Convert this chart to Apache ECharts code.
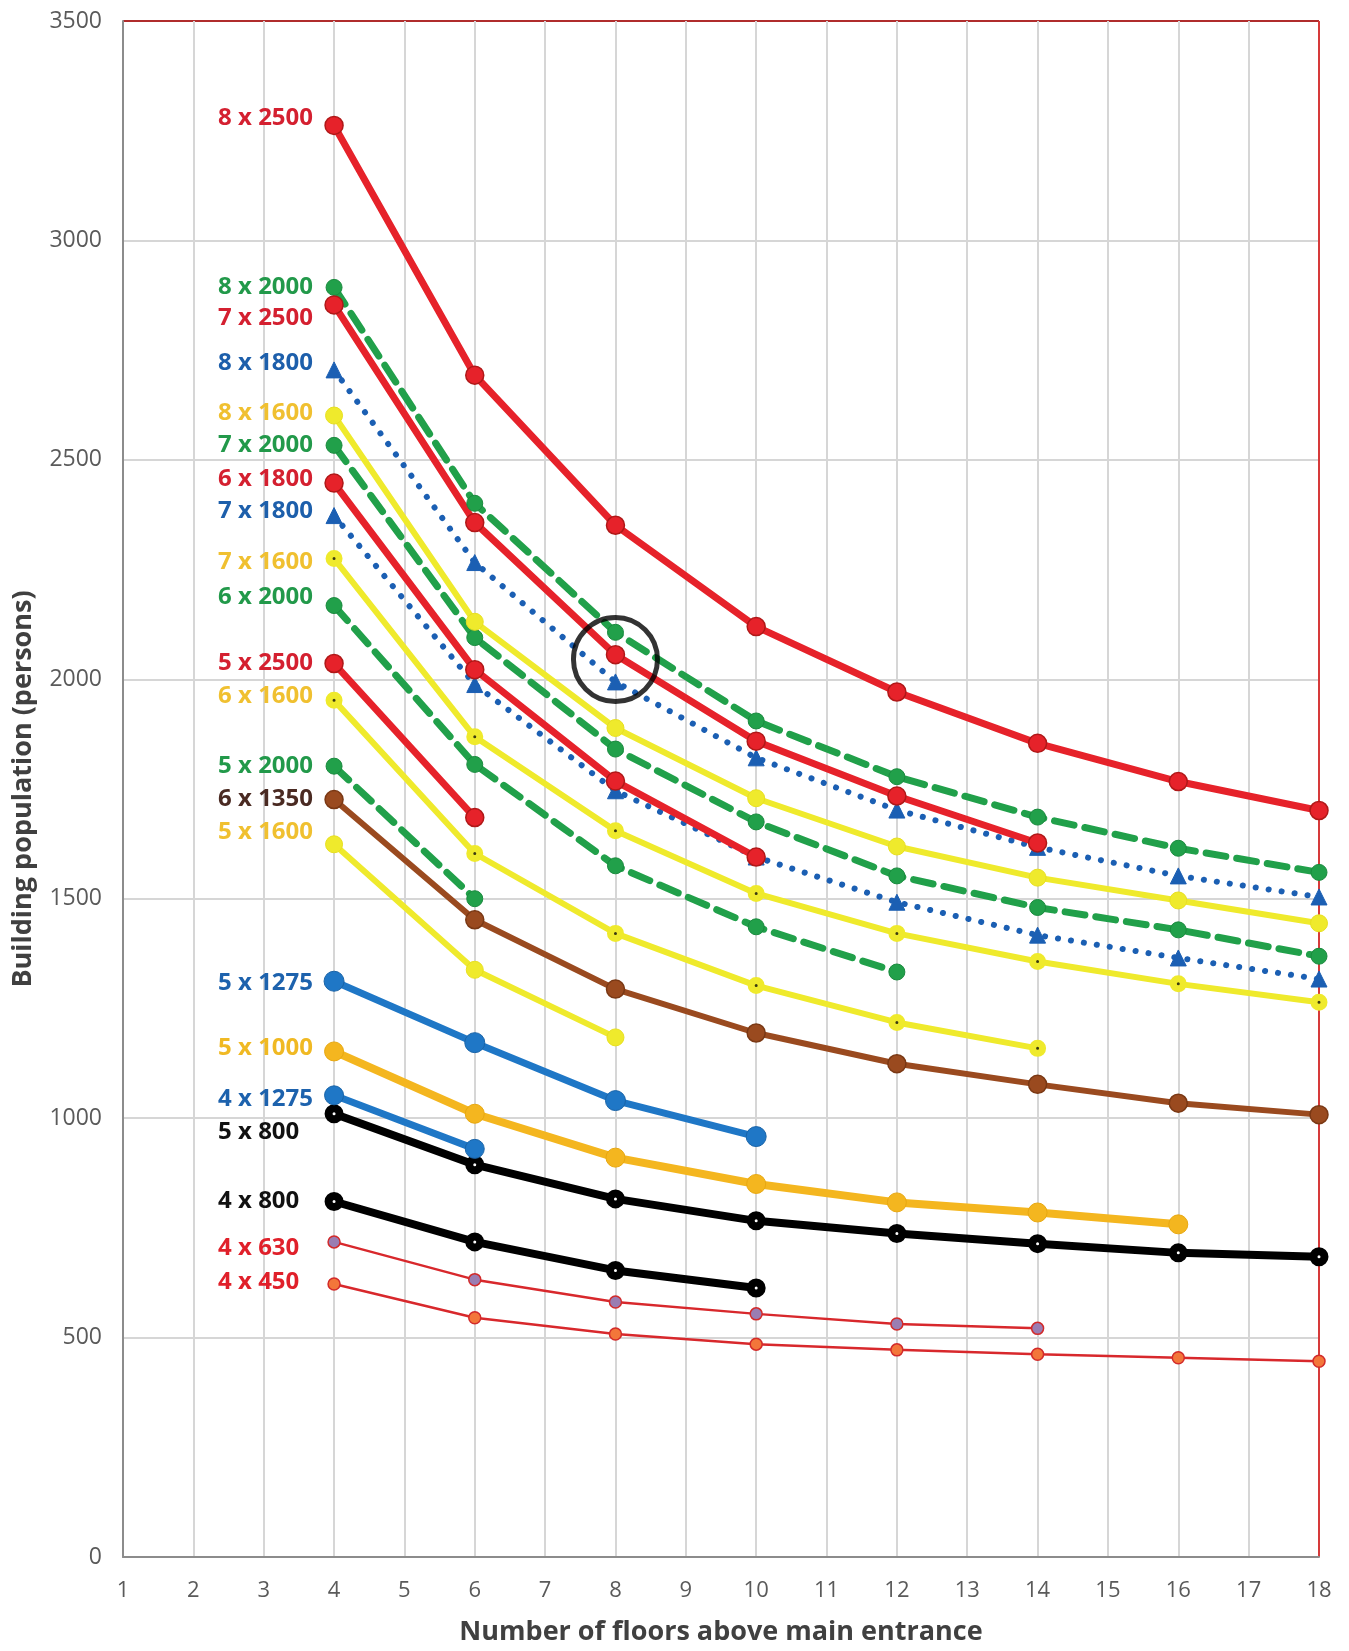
<!DOCTYPE html>
<html>
<head>
<meta charset="utf-8">
<script src="https://cdn.jsdelivr.net/npm/echarts@6/dist/echarts.min.js"></script>
<style>
  html, body { margin: 0; padding: 0; background: #fff; }
  #chart { width: 1349px; height: 1651px; }
</style>
</head>
<body>
<div id="chart"></div>
<script>
// floors on the x axis where the curves have points
const floors = [4, 6, 8, 10, 12, 14, 16, 18];
const yTicks = [0, 500, 1000, 1500, 2000, 2500, 3000, 3500];

// building population per curve
const s8x2500 = [3262, 2693, 2351, 2120, 1971, 1854, 1767, 1701];
const s8x2000 = [2893, 2401, 2107, 1905, 1778, 1686, 1615, 1560];
const s7x2500 = [2853, 2357, 2056, 1859, 1734, 1627];
const s8x1800 = [2705, 2266, 1994, 1821, 1702, 1617, 1552, 1504];
const s8x1600 = [2601, 2131, 1889, 1729, 1619, 1548, 1496, 1444];
const s7x2000 = [2533, 2095, 1841, 1675, 1552, 1480, 1429, 1369];
const s6x1800 = [2447, 2022, 1768, 1595];
const s7x1800 = [2373, 1988, 1746, 1595, 1492, 1417, 1365, 1317];
const s7x1600 = [2275, 1869, 1655, 1512, 1421, 1357, 1306, 1264];
const s6x2000 = [2168, 1806, 1575, 1436, 1333];
const s5x2500 = [2036, 1685];
const s6x1600 = [1952, 1603, 1421, 1302, 1218, 1159];
const s5x2000 = [1802, 1500];
const s6x1350 = [1726, 1452, 1294, 1194, 1124, 1077, 1034, 1008];
const s5x1600 = [1624, 1338, 1184];
const s5x1275 = [1312, 1172, 1040, 958];
const s5x1000 = [1152, 1010, 910, 850, 808, 785, 758];
const s4x1275 = [1052, 930];
const s5x800 = [1010, 894, 816, 766, 737, 714, 693, 684];
const s4x800 = [810, 718, 653, 613];
const s4x630 = [718, 632, 581, 554, 531, 521];
const s4x450 = [622, 545, 508, 485, 472, 462, 454, 446];

// the highlighted point (black ring)
const ringPoint = [8, 2045];

const RED = "#e6222a", GREEN = "#21a04a", DBLUE = "#1b5fb3", YEL = "#efea2c",
      BROWN = "#9a4a1f", BLUE = "#1f77c6", ORANGE = "#f4b61f", THIN = "#d8282c";

const dots = [0.1, 13];
const dashes = [20, 11];

// labels start at a common left edge, this far left of the x = 4 points
const LABEL_DX = -116;

// name, values, line color, width, line type, marker, label color, label dy
const curves = [
  ["4 x 450", s4x450, THIN, 2.5, "solid", { size: 12, color: "#f3763a", border: "#d22a2a", bw: 1.5 }, "#e0202a", -2],
  ["4 x 630", s4x630, THIN, 2.5, "solid", { size: 12, color: "#9a7db2", border: "#d22a2a", bw: 1.5 }, "#e0202a", 6],
  ["4 x 800", s4x800, "#000", 8, "solid", { size: 11, color: "#fff", border: "#000", bw: 8 }, "#111", 0],
  ["5 x 800", s5x800, "#000", 8, "solid", { size: 11, color: "#fff", border: "#000", bw: 8 }, "#111", 18],
  ["4 x 1275", s4x1275, BLUE, 7, "solid", { size: 19, color: BLUE, border: "#1a64a8", bw: 1 }, "#1d62ad", 4],
  ["5 x 1000", s5x1000, ORANGE, 8, "solid", { size: 19, color: ORANGE, border: "#e8a810", bw: 1 }, "#f0b923", -3],
  ["5 x 1275", s5x1275, BLUE, 7, "solid", { size: 20, color: BLUE, border: "#1a64a8", bw: 1 }, "#1d62ad", 2],
  ["5 x 1600", s5x1600, YEL, 6, "solid", { size: 17, color: YEL, border: "#e8e020", bw: 1 }, "#f0c030", -12],
  ["6 x 1350", s6x1350, BROWN, 6, "solid", { size: 18, color: BROWN, border: "#7a3814", bw: 1.5 }, "#4a2a22", 0],
  ["5 x 2000", s5x2000, GREEN, 7, dashes, { size: 16, color: GREEN, border: "#1a8a3e", bw: 1 }, "#22994a", 0],
  ["6 x 1600", s6x1600, YEL, 6, "solid", { size: 10, color: "#3a3a10", border: YEL, bw: 7 }, "#f0c030", -4],
  ["5 x 2500", s5x2500, RED, 7, "solid", { size: 18, color: RED, border: "#b01818", bw: 1.5 }, "#d42030", 0],
  ["6 x 2000", s6x2000, GREEN, 7, dashes, { size: 16, color: GREEN, border: "#1a8a3e", bw: 1 }, "#22994a", -8],
  ["7 x 1600", s7x1600, YEL, 6, "solid", { size: 10, color: "#3a3a10", border: YEL, bw: 7 }, "#f0c030", 4],
  ["7 x 1800", s7x1800, DBLUE, 6, dots, { size: 16, color: DBLUE, border: DBLUE, bw: 1, symbol: "triangle" }, "#1d5fab", -4],
  ["6 x 1800", s6x1800, RED, 7, "solid", { size: 18, color: RED, border: "#b01818", bw: 1.5 }, "#d42030", -4],
  ["7 x 2000", s7x2000, GREEN, 7, dashes, { size: 16, color: GREEN, border: "#1a8a3e", bw: 1 }, "#22994a", 0],
  ["8 x 1600", s8x1600, YEL, 6, "solid", { size: 17, color: YEL, border: "#e8e020", bw: 1 }, "#f0c030", -2],
  ["8 x 1800", s8x1800, DBLUE, 6, dots, { size: 16, color: DBLUE, border: DBLUE, bw: 1, symbol: "triangle" }, "#1d5fab", -7],
  ["8 x 2000", s8x2000, GREEN, 7, dashes, { size: 16, color: GREEN, border: "#1a8a3e", bw: 1 }, "#22994a", 0],
  ["7 x 2500", s7x2500, RED, 7, "solid", { size: 18, color: RED, border: "#b01818", bw: 1.5 }, "#d42030", 13],
  ["8 x 2500", s8x2500, RED, 7, "solid", { size: 18, color: RED, border: "#b01818", bw: 1.5 }, "#d42030", -7]
];

const series = curves.map(([name, values, color, width, type, mk, labelColor, dy]) => ({
  type: "line",
  name: name,
  symbol: mk.symbol || "circle",
  symbolSize: mk.size,
  showAllSymbol: true,
  lineStyle: { color: color, width: width, type: type, cap: "round" },
  itemStyle: { color: mk.color, borderColor: mk.border, borderWidth: mk.bw },
  emphasis: { disabled: true },
  data: values.map((v, i) => i === 0
    ? {
        value: [floors[i], v],
        label: {
          show: true,
          position: "inside",
          align: "left",
          verticalAlign: "middle",
          offset: [LABEL_DX, dy],
          formatter: name,
          color: labelColor,
          fontFamily: "Open Sans",
          fontWeight: "bold",
          fontSize: 24
        }
      }
    : [floors[i], v])
}));

series.push({
  type: "scatter",
  data: [ringPoint],
  symbol: "circle",
  symbolSize: 84,
  itemStyle: { color: "rgba(0,0,0,0)", borderColor: "#000", borderWidth: 5 },
  emphasis: { disabled: true },
  z: 5
});

const xGridColors = [];
for (let i = 1; i <= 18; i++) xGridColors.push(i === 18 ? "#d63a3a" : "#d6d6d6");
const yGridColors = yTicks.map(t => t === 3500 ? "#b02c2c" : "#d6d6d6");

const chart = echarts.init(document.getElementById("chart"));
chart.setOption({
  animation: false,
  backgroundColor: "#fff",
  grid: { left: 123, right: 30, top: 21, bottom: 93, containLabel: false },
  xAxis: {
    type: "value",
    min: 1,
    max: 18,
    interval: 1,
    name: "Number of floors above main entrance",
    nameLocation: "middle",
    nameGap: 62,
    nameTextStyle: { fontFamily: "Open Sans", fontWeight: "bold", fontSize: 27, color: "#404040" },
    axisLine: { show: true, onZero: false, lineStyle: { color: "#8c8c8c", width: 2 } },
    axisTick: { show: false },
    axisLabel: { margin: 23, fontFamily: "Open Sans", fontSize: 22, color: "#5a5a5a" },
    splitLine: { show: true, lineStyle: { color: xGridColors, width: 2 } }
  },
  yAxis: {
    type: "value",
    min: 0,
    max: 3500,
    interval: 500,
    name: "Building population (persons)",
    nameLocation: "middle",
    nameGap: 86,
    nameTextStyle: { fontFamily: "Open Sans", fontWeight: "bold", fontSize: 27, color: "#404040" },
    axisLine: { show: true, lineStyle: { color: "#8c8c8c", width: 2 } },
    axisTick: { show: false },
    axisLabel: {
      margin: 21, fontFamily: "Open Sans", fontSize: 23, color: "#5a5a5a",
      formatter: v => String(v)
    },
    splitLine: { show: true, lineStyle: { color: yGridColors, width: 2 } }
  },
  series: series
});
</script>
</body>
</html>
